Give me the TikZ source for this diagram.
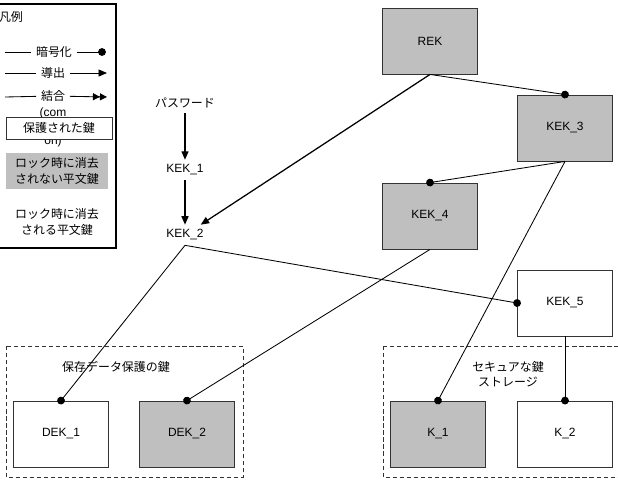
\documentclass[tikz,border=0pt]{standalone}
\usepackage{fontspec}
\setmainfont{Liberation Sans}
\newfontfamily\jp{Noto Sans CJK JP}
\usetikzlibrary{positioning,arrows.meta}

\begin{document}
\begin{tikzpicture}[x=0.025cm,y=-0.025cm,
	every node/.style={font=\fontsize{8.5}{11}\selectfont,align=center},
	keybox/.style={draw=black!80,line width=0.6pt,fill=white,minimum width=2.375cm,minimum height=1.65cm},
	lockbox/.style={keybox,fill=black!25},
	enc/.style={line width=0.6pt,-{Circle[length=5.5pt]},shorten >=-2.75pt},
	der/.style={line width=0.9pt,-{Triangle[length=6pt,width=5pt]}},
	comb/.style={line width=0.9pt,-{Triangle[length=5pt,width=5pt]Triangle[length=5pt,width=5pt]}},
	group/.style={draw=black!80,line width=0.6pt,dash pattern=on 3pt off 2pt}]
	\useasboundingbox (0,0) rectangle (618,480);
	% legend
	\draw[line width=0.8pt] (-5,4) rectangle (116,248);
	\node (legend) at (11,17) {\jp 凡例};
	\node (enctxt) at (54,52) {\jp 暗号化};
	\coordinate (encL) at (5,52);
	\coordinate (encR) at (102,52);
	\draw[line width=0.6pt] (encL) -- (enctxt);
	\draw[enc] (enctxt) -- (encR);
	\node (dertxt) at (53,73) {\jp 導出};
	\coordinate (derL) at (5,73);
	\coordinate (derR) at (107,73);
	\draw[line width=0.6pt] (derL) -- (dertxt);
	\draw[der,line width=0.6pt] (dertxt) -- (derR);
	\node (combtxt) at (53,96) {\jp 結合};
	\coordinate (combL) at (5,97);
	\coordinate (combR) at (107,97);
	\draw[line width=0.6pt] (combL) -- (combtxt);
	\draw[comb,line width=0.6pt] (combtxt) -- (combR);
	\node[font=\fontsize{8.5}{10}\selectfont] (combnote) at (53,127) {(com\\binati\\on)};
	\node[draw=black!80,line width=0.6pt,fill=white,minimum width=2.65cm,minimum height=0.55cm] (protected) at (59,128) {\jp 保護された鍵};
	\node[fill=black!25,minimum width=2.55cm,minimum height=0.85cm] (lockkeep) at (57,171) {\jp ロック時に消去\\\jp されない平文鍵};
	\node (lockwipe) at (57,222) {\jp ロック時に消去\\\jp される平文鍵};
	% groups
	\draw[group] (6,346) rectangle (243,477);
	\draw[group] (383,346) rectangle (630,477);
	\node (datagrp) at (116,367) {\jp 保存データ保護の鍵};
	\node (storegrp) at (508,374) {\jp セキュアな鍵\\\jp ストレージ};
	% keys
	\node (pw) at (185,103) {\jp パスワード};
	\node (kek1) at (185,170) {KEK\_1};
	\node (kek2) at (185,235) {KEK\_2};
	\node[lockbox] (rek) at (430,41) {REK};
	\node[lockbox] (kek3) at (565,128) {KEK\_3};
	\node[lockbox] (kek4) at (430,216) {KEK\_4};
	\node[keybox] (kek5) at (565,303) {KEK\_5};
	\node[keybox] (dek1) at (61,434) {DEK\_1};
	\node[lockbox] (dek2) at (187,434) {DEK\_2};
	\node[lockbox] (k1) at (438,434) {K\_1};
	\node[keybox] (k2) at (565,434) {K\_2};
	% connectors
	\draw[der] (pw) -- (kek1);
	\draw[der] (kek1) -- (kek2);
	\draw[der] (rek.south) -- (kek2);
	\draw[enc] (rek.south) -- (kek3.north);
	\draw[enc] (kek3.south) -- (kek4.north);
	\draw[enc] (kek3.south) -- (k1.north);
	\draw[enc] (kek4.south) -- (dek2.north);
	\draw[enc] (kek5.south) -- (k2.north);
	\draw[enc] (kek2.south) -- (dek1.north);
	\draw[enc] (kek2.south) -- (kek5.west);
\end{tikzpicture}
\end{document}
